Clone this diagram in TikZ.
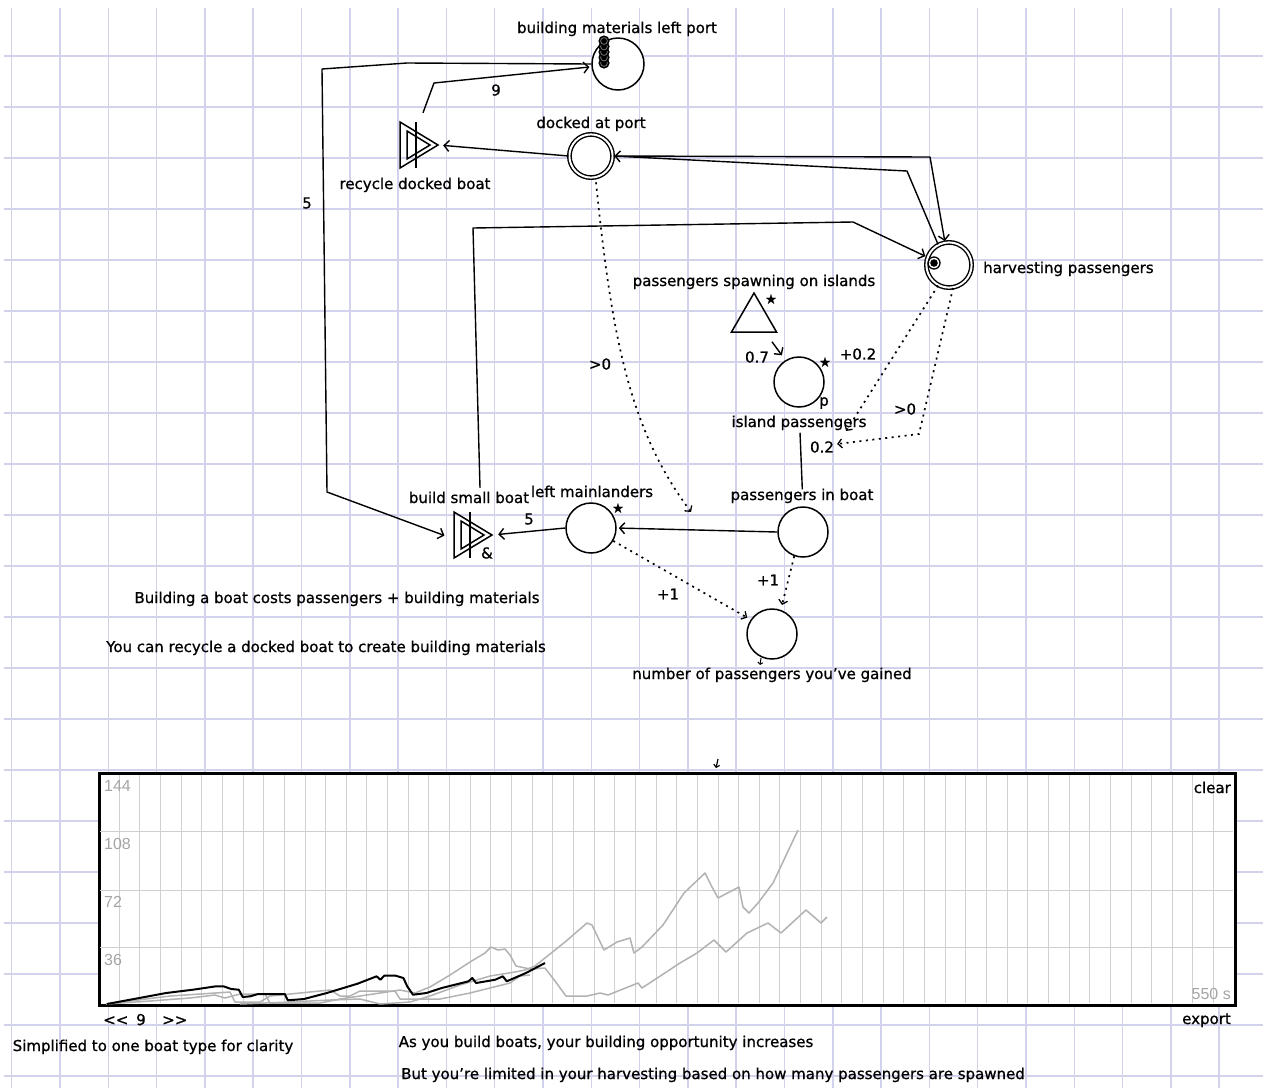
\documentclass[tikz,border=0pt]{standalone}
\usepackage{fontspec}
\setmainfont{DejaVu Sans}[FakeBold=0.9]
\newfontfamily\chartfont{Liberation Sans}
\usetikzlibrary{arrows.meta,calc,shapes.geometric}
\definecolor{paper}{RGB}{210,210,236}
\definecolor{chartgrid}{RGB}{208,208,208}
\definecolor{runs}{RGB}{178,178,178}
\definecolor{axisnum}{RGB}{165,165,165}
\begin{document}
\begin{tikzpicture}[x=1pt,y=-1pt,
  every node/.style={font=\fontsize{15}{18}\selectfont, inner sep=0pt},
  pool/.style={circle, draw, line width=1.5pt, fill=white, minimum size=50pt},
  dpool/.style={circle, draw, line width=1.4pt, double, double distance=2pt, fill=white},
  conv/.style={minimum width=38pt, minimum height=46pt},
  lbl/.style={anchor=base},
  cl/.style={anchor=center},
  res/.style={line width=1.4pt, line join=round, -{Straight Barb[length=5pt,width=11pt,line width=1.4pt]}},
  state/.style={line width=1.7pt, dash pattern=on 2pt off 4.5pt, -{Straight Barb[length=4pt,width=9pt,line width=1.3pt]}},
  shapeline/.style={line width=1.5pt, line join=miter},
  run/.style={runs, line width=1.5pt, line join=round},
  starmark/.style={font=\fontsize{13}{14}\selectfont}
]
\useasboundingbox (0,0) rectangle (1263,1088);
\fill[white] (0,0) rectangle (1263,1088);
% paper grid
\foreach \k in {0,...,25} \draw[paper, line width=1.5pt] ({11.7+48.3*\k},8) -- ({11.7+48.3*\k},1088);
\foreach \k in {0,...,20} \draw[paper, line width=1.5pt] (4,{56+51*\k}) -- (1263,{56+51*\k});

% ---------------- chart ----------------
\node[draw, line width=2.2pt, fill=white, minimum width=1135pt, minimum height=231pt, anchor=north west] (chart) at (99,773) {};
\foreach \k in {1,...,54} \draw[chartgrid, line width=1pt] ({98.5+20.65*\k},775) -- ({98.5+20.65*\k},1003);
\foreach \yy in {831.7,890,947.7} \draw[chartgrid, line width=1pt] (100,\yy) -- (1233,\yy);
\draw[run] plot coordinates {(106,1004) (150,1001) (190,998) (215,995) (225,998) (240,994) (265,994) (270,1003) (320,1003) (340,999) (360,996) (380,993) (400,990) (415,993) (430,987) (450,975) (470,962) (485,953) (491,947) (498,950) (505,949) (510,955) (516,966) (530,969) (545,968) (555,981) (566,996) (587,996) (600,993) (608,995) (638,983) (642,988) (680,963) (697,953) (714,940) (726,952) (747,933) (768,923) (781,933) (806,910) (821,923) (827,917)};
\draw[run] plot coordinates {(240,1004) (290,1002) (330,1000) (360,999) (380,1004) (410,1002) (430,996) (460,985) (490,976) (515,972) (525,970) (535,966) (545,958) (565,942) (587,923) (592,925) (604,950) (617,942) (630,938) (634,953) (642,947) (663,925) (684,893) (705,873) (712,887) (718,898) (739,887) (743,907) (749,913) (758,903) (773,883) (798,830)};
\draw[run] plot coordinates {(106,1004) (170,996) (230,992) (235,1002) (260,1002) (270,996) (300,993) (330,990) (340,996) (350,996) (360,991) (395,991) (400,999) (440,999) (470,993) (510,983) (520,976) (530,975)};
\draw[line width=2pt, line join=round] plot coordinates {(106.8,1004) (139.3,998) (166.1,993) (192.9,989.7) (215.9,986.3) (223.5,986.3) (231.2,989) (238.8,989.7) (242.7,997) (250.3,996.3) (258,994) (284.8,994) (287.8,1000.3) (303.9,999) (326.8,993) (357.5,983.7) (376.6,976.3) (380.4,979.7) (384.3,975.7) (395.7,975.7) (403.4,978) (407.2,986.3) (413,994.7) (426.4,993) (441.7,988) (468.4,981.3) (472.3,978) (476.1,983) (495.2,979.7) (502.9,976.3) (506.7,981.3) (525.9,973) (545,963)};
\draw[line width=2.2pt] (chart.north west) rectangle (chart.south east);
\node[anchor=base west, text=axisnum, font=\chartfont\fontsize{16}{17}\selectfont] (y144) at (104,791) {144};
\node[anchor=base west, text=axisnum, font=\chartfont\fontsize{16}{17}\selectfont] (y108) at (104,849) {108};
\node[anchor=base west, text=axisnum, font=\chartfont\fontsize{16}{17}\selectfont] (y72) at (104,907) {72};
\node[anchor=base west, text=axisnum, font=\chartfont\fontsize{16}{17}\selectfont] (y36) at (104,965) {36};
\node[anchor=base east, text=axisnum, font=\chartfont\fontsize{16}{17}\selectfont] (tsec) at (1231,999) {550 s};
\node[anchor=base east] (tclear) at (1231,793) {clear};
\node[anchor=base east] (texport) at (1231,1024) {export};
\node[anchor=base west] (tprev) at (103,1025) {<\kern0pt<};
\node[lbl] (trun) at (141,1025) {9};
\node[anchor=base west] (tnext) at (162,1025) {>\kern0pt>};

% ---------------- nodes ----------------
\node[pool, minimum size=52pt] (bm) at (618,64) {};
\foreach \yy in {63,57.5,52,46.5,41} {
  \fill[black] (604,\yy) circle (5.6);
  \draw[gray, line width=0.7pt] (604,\yy) circle (3.4);
}
\node[dpool, minimum size=43.2pt] (docked) at (591,156) {};
\node[dpool, minimum size=45.2pt] (harv) at (949,265) {};
\fill[black] (934,263) circle (3.8);
\draw[line width=1.3pt] (934,263) circle (6);
\node[conv] (rec) at (419,145) {};
\node[conv] (bsb) at (473,535) {};
\foreach \n in {rec,bsb} {
  \draw[shapeline] ($(\n)+(-19,-23)$) -- ($(\n)+(-19,23)$) -- ($(\n)+(19,0)$) -- cycle;
  \draw[shapeline] ($(\n)+(-12,-14)$) -- ($(\n)+(-12,14)$) -- ($(\n)+(11,0)$) -- cycle;
  \draw[shapeline] ($(\n)+(-3,-23)$) -- ($(\n)+(-3,23)$);
}
\node[regular polygon, regular polygon sides=3, draw, line width=1.5pt, minimum size=52pt] (src) at (754,319) {};
\node[pool] (isl) at (799,382) {};
\node[pool] (boat) at (803,532) {};
\node[pool] (left) at (591,528) {};
\node[pool] (gain) at (772,634) {};

% marks
\node[starmark] (s1) at (771,299) {★};
\node[starmark] (s2) at (825,362) {★};
\node[starmark] (s3) at (618,508) {★};
\node[cl] (pmark) at (824,403) {p};
\node[cl] (amp) at (487,553) {\&};

% ---------------- labels ----------------
\node[lbl] (tbm) at (617,33) {building materials left port};
\node[lbl] (tdock) at (591,128) {docked at port};
\node[lbl] (trec) at (415,189) {recycle docked boat};
\node[anchor=base west] (tharv) at (983,273) {harvesting passengers};
\node[lbl] (tsrc) at (754,286) {passengers spawning on islands};
\node[lbl] (tisl) at (799,427) {island passengers};
\node[lbl] (tboat) at (802,500) {passengers in boat};
\node[lbl] (tleft) at (592,497) {left mainlanders};
\node[lbl] (tbsb) at (469,503) {build small boat};
\node[lbl] (tgain) at (772,679) {number of passengers you've gained};

\node[lbl] (c1) at (337,603) {Building a boat costs passengers + building materials};
\node[lbl] (c2) at (326,652) {You can recycle a docked boat to create building materials};
\node[lbl] (c3) at (153,1051) {Simplified to one boat type for clarity};
\node[lbl] (c4) at (606,1047) {As you build boats, your building opportunity increases};
\node[lbl] (c5) at (713,1079) {But you're limited in your harvesting based on how many passengers are spawned};

% ---------------- resource connections ----------------
\draw[res, shorten >=10pt] (bm.west) -- (407,63) -- (322,69) -- (327,492) -- ([yshift=-4pt]bsb.west);
\node[cl] (l5a) at (307,203) {5};
\draw[res, shorten >=2pt] ([shift={(4,-9)}]rec.north) -- (434,83) -- (bm.186);
\node[cl] (l9) at (496,90) {9};
\draw[res, shorten >=5pt] (docked.west) -- (rec.east);
\draw[res, shorten >=1pt] (docked.east) -- (930,157) -- (harv.100);
\draw[res, shorten >=1pt] (harv.118) -- (907,171) -- (docked.east);
\draw[res, shorten >=2pt] ([shift={(7,-24)}]bsb.north) -- (473,228) -- (853,222) -- (harv.160);
\draw[res, shorten >=6pt] ([shift={(18,9)}]src.south) -- (isl.122);
\node[cl] (l07) at (757,357) {0.7};
\draw[line width=1.4pt, shorten <=25pt, shorten >=17pt] (isl.south) -- (boat.north);
\node[cl] (l02) at (822,447) {0.2};
\draw[res, shorten >=2pt] (boat.west) -- (left.east);
\draw[res, shorten >=6pt] (left.west) -- (bsb.east);
\node[cl] (l5b) at (529,519) {5};

% ---------------- state connections ----------------
\coordinate (jend) at (691,512);
\draw[state] ([shift={(5,4)}]docked.south) .. controls (612,340) and (630,430) .. (jend);
\node[cl] (lg0a) at (600,364) {>0};
\draw[state] (harv.-118) -- ([shift={(12,-16)}]l02.east);
\node[cl] (lp02) at (858,354) {+0.2};
\draw[state] (harv.-80) -- (919,434) -- ([shift={(3,-3)}]l02.east);
\node[cl] (lg0b) at (905,409) {>0};
\draw[state, shorten >=4pt] (left.-30) -- (gain.146);
\node[cl] (lp1a) at (668,594) {+1};
\draw[state, shorten >=5pt] (boat.-110) -- (gain.70);
\node[cl] (lp1b) at (768,580) {+1};

% tiny marks
\coordinate (m1s) at (718,759);
\coordinate (m1e) at (716,768);
\draw[line width=1.2pt, -{Straight Barb[length=2.5pt,width=6pt,line width=1.2pt]}] (m1s) -- (m1e);
\coordinate (m2s) at (761,658);
\coordinate (m2e) at (760,665);
\draw[line width=1pt, -{Straight Barb[length=2pt,width=5pt,line width=1pt]}] (m2s) -- (m2e);
\end{tikzpicture}
\end{document}
